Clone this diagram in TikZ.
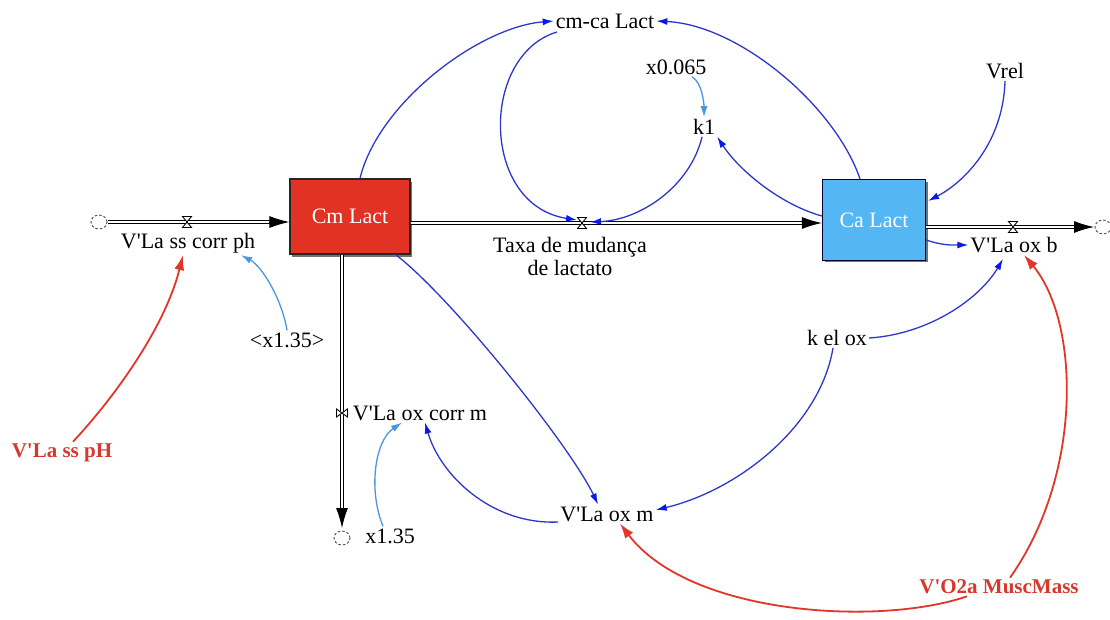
\documentclass[tikz,border=0pt]{standalone}
\usepackage{fontspec}
\setmainfont{Liberation Serif}[Ligatures=TeXOff]
\usetikzlibrary{arrows.meta,calc}

\definecolor{cmred}{RGB}{226,50,36}
\definecolor{cablue}{RGB}{84,182,242}
\definecolor{linkblue}{RGB}{45,55,200}
\definecolor{arrowblue}{RGB}{10,25,235}
\definecolor{lightlink}{RGB}{75,150,225}
\definecolor{redlink}{RGB}{225,55,40}
\definecolor{redtext}{RGB}{215,55,45}

\tikzset{
  lbl/.style={inner sep=2pt, font=\fontsize{22}{26}\selectfont, text=black},
  redlbl/.style={inner sep=2pt, font=\fontsize{21}{25}\selectfont\bfseries, text=redtext},
  stock/.style={draw=black!85, line width=1.2pt, inner sep=0pt,
    font=\fontsize{22}{26}\selectfont, text=white},
  pipe/.style={draw=black, line width=0.9pt, double=white, double distance=2.6pt},
  pipehead/.style={draw=black, line width=1pt, -{Latex[length=20pt,width=12pt,color=black]}},
  link/.style={draw=linkblue, line width=1.3pt, -{Latex[length=11pt,width=7pt,color=arrowblue]}},
  lightlinkstyle/.style={draw=lightlink, line width=1.3pt, -{Latex[length=11pt,width=7pt,color=lightlink]}},
  redarrow/.style={draw=redlink, line width=1.8pt, -{Latex[length=15pt,width=10pt,color=redlink]}},
  cloudmark/.style={draw=black!70, line width=0.9pt, dash pattern=on 2.5pt off 2pt},
  valvemark/.style={draw=black, fill=white, line width=0.9pt, line join=miter}
}

\begin{document}
\begin{tikzpicture}[x=1pt,y=1pt]
\useasboundingbox (0,0) rectangle (1110,-619);
\fill[white] (0,0) rectangle (1110,-619);

% stocks, with a small drop shadow
\fill[black!55] (292,-182) rectangle (412,-257);
\node[stock, fill=cmred, minimum width=120, minimum height=75] (cm) at (350,-216.5) {Cm Lact};
\fill[black!55] (824.5,-182) rectangle (927.5,-262);
\node[stock, draw=black!80!blue, fill=cablue, minimum width=103, minimum height=81] (ca) at (874,-220) {Ca Lact};

% sources / sinks and valve positions
\coordinate (cloudL) at (99,-222);
\coordinate (cloudR) at (1103,-227);
\coordinate (cloudB) at (342,-538);
\coordinate (vL) at (187,-222);
\coordinate (vM) at (582,-223);
\coordinate (vR) at (1013,-227);
\coordinate (vB) at (342,-413);

% flow pipes
\draw[pipe] ([xshift=9]cloudL) -- ([xshift=-16]cm.west |- vL);
\draw[pipehead] ([xshift=-20]cm.west |- vL) -- (cm.west |- vL);
\draw[pipe] (cm.east |- vM) -- ([xshift=-16]ca.west |- vM);
\draw[pipehead] ([xshift=-20]ca.west |- vM) -- (ca.west |- vM);
\draw[pipe] (ca.east |- vR) -- ([xshift=-24]cloudR);
\draw[pipehead] ([xshift=-28]cloudR) -- ([xshift=-9]cloudR);
\draw[pipe] (cm.south -| vB) -- ([yshift=26]cloudB);
\draw[pipehead] ([yshift=30]cloudB) -- ([yshift=10]cloudB);

% clouds
\draw[cloudmark] (cloudL) circle[x radius=8, y radius=7];
\draw[cloudmark] (cloudR) circle[x radius=8, y radius=7];
\draw[cloudmark] (cloudB) circle[x radius=8, y radius=7];

% valves
\foreach \v in {vL,vM,vR}
  \draw[valvemark] (\v) +(-4.5,5.5) -- +(4.5,5.5) -- +(-4.5,-5.5) -- +(4.5,-5.5) -- cycle;
\draw[valvemark] (vB) +(-5.5,4) -- +(-5.5,-4) -- +(5.5,4) -- +(5.5,-4) -- cycle;

% variable labels
\node[lbl] (vss) at (188,-243) {V'La ss corr ph};
\node[lbl, align=center, inner sep=0pt] (taxa) at (570,-256) {Taxa de mudança\\[-3pt]de lactato};
\node[lbl] (voxb) at (1014,-245) {V'La ox b};
\node[lbl] (cmca) at (605,-21) {cm-ca Lact};
\node[lbl] (x065) at (676,-67) {x0.065};
\node[lbl] (k1) at (704,-127) {k1};
\node[lbl] (vrel) at (1005,-71) {Vrel};
\node[lbl] (kelox) at (837,-338) {k el ox};
\node[lbl] (voxm) at (607,-514) {V'La ox m};
\node[lbl] (voxcm) at (420,-413) {V'La ox corr m};
\node[lbl] (x135) at (390,-536) {x1.35};
\node[lbl] (x135b) at (287,-340) {<x1.35>};
\node[redlbl] (vsspH) at (62,-453) {V'La ss pH};
\node[redlbl] (vo2) at (999,-587) {V'O2a MuscMass};

% information links
\draw[link] ([xshift=10]cm.north) .. controls +(18,75) and +(-75,-6) .. (cmca.west);
\draw[link] ([xshift=-14]ca.north) .. controls +(-25,73) and +(83,-4) .. (cmca.east);
\draw[link] ([shift={(-48,-11)}]cmca.center) .. controls +(-77,-23) and +(-97,15) .. ([shift={(-5,3)}]vM);
\draw[link] ([xshift=-2]k1.south) .. controls +(-12,-50) and +(50,2) .. ([shift={(8,1)}]vM);
\draw[lightlinkstyle] ([xshift=16]x065.south) .. controls +(10,-6) and +(0,14) .. (k1.north);
\draw[link] ([yshift=4]ca.west) .. controls +(-40,11) and +(23,-35) .. (k1.south east);
\draw[link] (vrel.south) .. controls +(-2,-65) and +(33,17) .. ([shift={(2,-22)}]ca.north east);
\draw[link] ([yshift=-20]ca.east) .. controls +(18,-6) and +(-15,0) .. (voxb.west);
\draw[link] (kelox.east) .. controls +(61,4) and +(-23,-39) .. ([shift={(-11,-4)}]voxb.south);
\draw[link] ([xshift=-4]kelox.south) .. controls +(-13,-78) and +(83,20) .. ([yshift=4]voxm.east);
\draw[link] ([xshift=-15]cm.south east) .. controls +(55,-42) and +(-28,59) .. ([xshift=-9]voxm.north);
\draw[link] ([yshift=-8]voxm.west) .. controls +(-67,-3) and +(15,-52) .. ([xshift=5]voxcm.south);
\draw[lightlinkstyle] ([xshift=-7]x135.north) .. controls +(-15,37) and +(-27,-18) .. ([xshift=-18]voxcm.south);
\draw[lightlinkstyle] (x135b.north) .. controls +(-5,31) and +(21,-11) .. ([xshift=53]vss.south);

% external drivers
\draw[redarrow] ([xshift=11]vsspH.north) .. controls +(42,45) and +(-18,-72) .. ([xshift=-5]vss.south);
\draw[redarrow] ([xshift=-32]vo2.south) .. controls +(-87,-30) and +(70,-92) .. ([xshift=13]voxm.south);
\draw[redarrow] ([xshift=11]vo2.north) .. controls +(73,103) and +(56,-67) .. ([xshift=10]voxb.south);
\end{tikzpicture}
\end{document}
